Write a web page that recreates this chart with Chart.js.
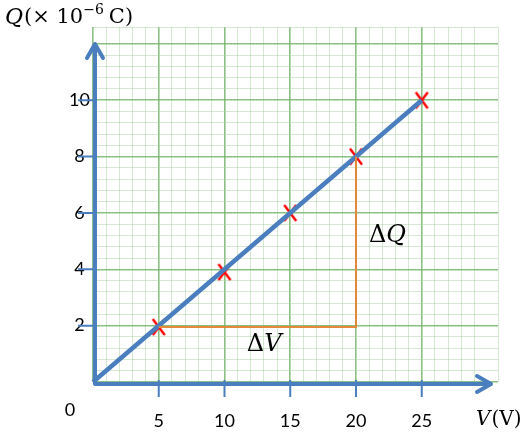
<!DOCTYPE html>
<html lang="en">
<head>
  <meta charset="UTF-8">
  <title>Q vs V</title>
  <style>
    html, body { margin: 0; padding: 0; background: #fff; }
    #chart { display: block; }
  </style>
</head>
<body>
  <canvas id="chart" width="526" height="439"></canvas>
  <script src="https://cdn.jsdelivr.net/npm/chart.js"></script>
  <script>
    // data
    const lineV = [0, 25];
    const lineQ = [0, 10];
    const pointV = [5, 10, 15, 20, 25];
    const pointQ = [1.95, 3.9, 6, 8, 10];
    const triV = [5, 20, 20];
    const triQ = [1.95, 1.95, 8];
    const xTicks = [5, 10, 15, 20, 25];
    const yTicks = [2, 4, 6, 8, 10];

    const blue = '#4a7ebf';
    const majorGreen = 'rgba(120,180,110,0.85)';
    const minorGreen = 'rgba(170,210,165,0.5)';

    const isMult = (v, m) => Math.abs(v / m - Math.round(v / m)) < 1e-6;
    const toPts = (xs, ys) => xs.map((x, i) => ({ x: x, y: ys[i] }));

    // tall red "X" marker like the one in the drawing
    const cross = document.createElement('canvas');
    cross.width = 16; cross.height = 20;
    (function () {
      const c = cross.getContext('2d');
      c.strokeStyle = '#ff0000';
      c.lineWidth = 2.4;
      c.beginPath();
      c.moveTo(2, 2); c.lineTo(14, 18);
      c.moveTo(14, 2); c.lineTo(2, 18);
      c.stroke();
    })();

    // axes, arrows and text that Chart.js has no option for
    const decor = {
      id: 'decor',
      beforeDatasetsDraw(chart) {
        const { ctx, scales: { x, y } } = chart;
        const x0 = x.getPixelForValue(0) + 2, y0 = y.getPixelForValue(0) + 2;
        ctx.save();
        ctx.strokeStyle = blue;
        ctx.lineWidth = 4;
        ctx.lineCap = 'round';
        ctx.lineJoin = 'round';
        const yTop = 44, xEnd = 491;
        ctx.beginPath();
        ctx.moveTo(x0, y0); ctx.lineTo(x0, yTop);
        ctx.moveTo(x0 - 8, yTop + 14); ctx.lineTo(x0, yTop); ctx.lineTo(x0 + 8, yTop + 14);
        ctx.moveTo(x0, y0); ctx.lineTo(xEnd, y0);
        ctx.moveTo(xEnd - 14, y0 - 8); ctx.lineTo(xEnd, y0); ctx.lineTo(xEnd - 14, y0 + 8);
        ctx.stroke();
        // tick marks
        ctx.lineWidth = 2;
        ctx.lineCap = 'butt';
        ctx.beginPath();
        yTicks.forEach(v => {
          const py = y.getPixelForValue(v);
          ctx.moveTo(x0 - 17, py); ctx.lineTo(x0, py);
        });
        xTicks.forEach(v => {
          const px = x.getPixelForValue(v);
          ctx.moveTo(px, y0 - 4); ctx.lineTo(px, y0 + 13);
        });
        ctx.stroke();
        ctx.restore();
      },
      afterDraw(chart) {
        const { ctx, scales: { x, y } } = chart;
        ctx.save();
        ctx.fillStyle = '#000';
        ctx.textBaseline = 'middle';
        ctx.font = '18px Lato';
        ctx.textAlign = 'center';
        ctx.fillText('0', 70, 410);
        // y title
        ctx.textAlign = 'left';
        let px = 5;
        ctx.font = 'italic 22px "DejaVu Serif"';
        ctx.fillText('Q', px, 18); px += ctx.measureText('Q').width + 1;
        ctx.font = '21px "DejaVu Serif"';
        ctx.fillText('(× 10', px, 18); px += ctx.measureText('(× 10').width;
        ctx.font = '14px "DejaVu Serif"';
        ctx.fillText('−6', px, 10); px += ctx.measureText('−6').width + 5;
        ctx.font = '21px "DejaVu Serif"';
        ctx.fillText('C)', px, 18);
        // x title
        px = 476;
        ctx.font = 'italic 20px "DejaVu Serif"';
        ctx.fillText('V', px, 420); px += ctx.measureText('V').width + 1;
        ctx.font = '20px "DejaVu Serif"';
        ctx.fillText('(V)', px, 420);
        // delta labels
        const dqx = x.getPixelForValue(20) + 13, dqy = y.getPixelForValue(5.2);
        ctx.font = '24px "DejaVu Serif"';
        ctx.fillText('Δ', dqx, dqy);
        let w = ctx.measureText('Δ').width;
        ctx.font = 'italic 24px "DejaVu Serif"';
        ctx.fillText('Q', dqx + w, dqy);
        const dvx = x.getPixelForValue(11.7), dvy = 345;
        ctx.font = '24px "DejaVu Serif"';
        ctx.fillText('Δ', dvx, dvy);
        w = ctx.measureText('Δ').width;
        ctx.font = 'italic 24px "DejaVu Serif"';
        ctx.fillText('V', dvx + w, dvy);
        ctx.restore();
      }
    };

    new Chart(document.getElementById('chart'), {
      type: 'scatter',
      data: {
        datasets: [
          {
            data: toPts(triV, triQ),
            showLine: true,
            borderColor: '#e38a3a',
            borderWidth: 2,
            pointRadius: 0,
            fill: false
          },
          {
            data: toPts(lineV, lineQ),
            showLine: true,
            borderColor: blue,
            borderWidth: 4.5,
            pointRadius: 0,
            clip: false
          },
          {
            data: toPts(pointV, pointQ),
            showLine: false,
            pointStyle: cross,
            pointRadius: 9,
            clip: false
          }
        ]
      },
      options: {
        responsive: false,
        animation: false,
        layout: { padding: { left: 10, top: 27, right: 23, bottom: 0 } },
        plugins: { legend: { display: false }, tooltip: { enabled: false } },
        scales: {
          x: {
            type: 'linear',
            min: 0,
            max: 30.8,
            afterFit: s => { s.height = 57; },
            border: { display: false },
            grid: {
              drawTicks: false,
              color: c => isMult(c.tick.value, 5) ? majorGreen : minorGreen,
              lineWidth: c => isMult(c.tick.value, 5) ? 1.6 : 1
            },
            ticks: {
              stepSize: 1,
              autoSkip: false,
              maxRotation: 0,
              padding: 28,
              color: '#000',
              font: { family: 'Lato', size: 18 },
              callback: v => xTicks.some(t => Math.abs(v - t) < 1e-6) ? String(Math.round(v)) : ''
            }
          },
          y: {
            type: 'linear',
            min: 0,
            max: 12.6,
            afterFit: s => { s.width = 83; },
            border: { display: false },
            grid: {
              drawTicks: false,
              color: c => isMult(c.tick.value, 2) ? majorGreen : minorGreen,
              lineWidth: c => isMult(c.tick.value, 2) ? 1.6 : 1
            },
            ticks: {
              stepSize: 0.4,
              autoSkip: false,
              crossAlign: 'center',
              color: '#000',
              font: { family: 'Lato', size: 18 },
              callback: v => yTicks.some(t => Math.abs(v - t) < 1e-6) ? String(Math.round(v)) : ''
            }
          }
        }
      },
      plugins: [decor]
    });
  </script>
</body>
</html>
